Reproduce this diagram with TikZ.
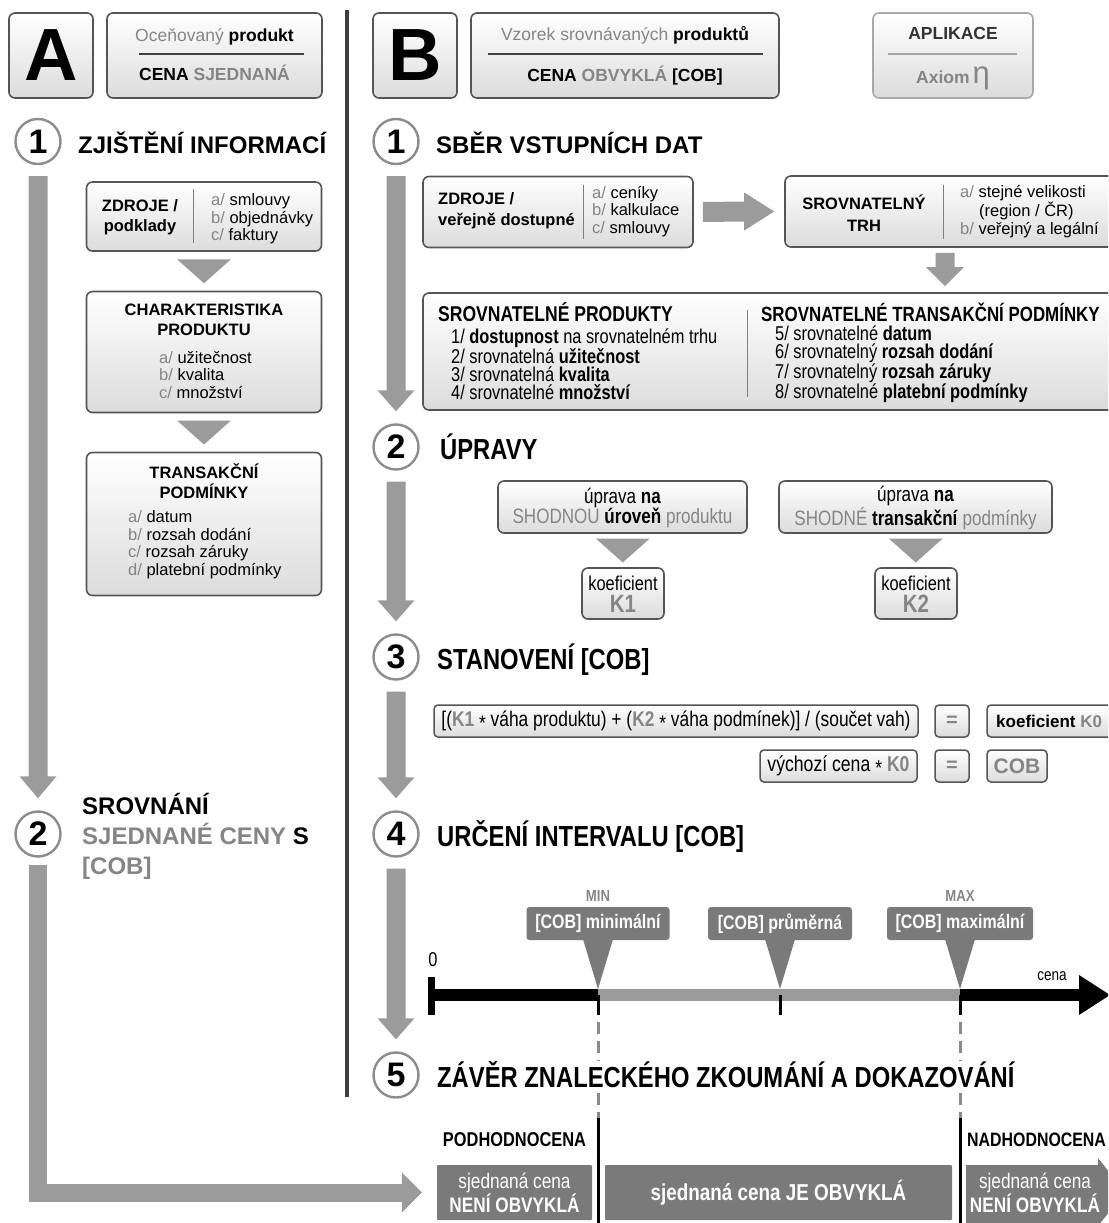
\documentclass[tikz,border=0pt]{standalone}
\usepackage{fontspec}
\setmainfont{Liberation Sans}
\newfontfamily\narrowfont[FakeStretch=0.82]{Liberation Sans}
\usetikzlibrary{calc}

\definecolor{boxline}{HTML}{555555}
\definecolor{boxbot}{HTML}{DCDCDC}
\definecolor{lightline}{HTML}{A8A8A8}
\definecolor{arrowgray}{HTML}{9B9B9B}
\definecolor{txtgray}{HTML}{858585}
\definecolor{darktxt}{HTML}{333333}
\definecolor{circline}{HTML}{8C8C8C}
\definecolor{sepgray}{HTML}{3F3F3F}
\definecolor{calloutgray}{HTML}{7A7A7A}
\definecolor{dashgray}{HTML}{8A8A8A}

\newcommand\gtx[1]{\textcolor{txtgray}{#1}}
\newcommand\starop{\raisebox{-.35ex}{*}}
\newcommand\downtri[1]{\fill[arrowgray] ($(#1)+(-27,-12)$) -- ($(#1)+(27,-12)$) -- ($(#1)+(0,12)$) -- cycle;}
\newcommand\blockdown[5]{\fill[arrowgray] ($(#1)+(-#3,0)$) -- ($(#2)+(-#3,-#5)$) -- ($(#2)+(-#4,-#5)$) -- (#2) -- ($(#2)+(#4,-#5)$) -- ($(#2)+(#3,-#5)$) -- ($(#1)+(#3,0)$) -- cycle;}
\newcommand\blockright[5]{\fill[arrowgray] ($(#1)+(0,-#3)$) -- ($(#2)+(-#5,-#3)$) -- ($(#2)+(-#5,-#4)$) -- (#2) -- ($(#2)+(-#5,#4)$) -- ($(#2)+(-#5,#3)$) -- ($(#1)+(0,#3)$) -- cycle;}

\tikzset{
  box/.style={draw=boxline, line width=1.6pt, rounded corners=6pt, top color=white, bottom color=boxbot, inner sep=0pt},
  sbox/.style={box, rounded corners=4pt, line width=1.5pt},
  circ/.style={circle, draw=circline, line width=2.4pt, minimum size=45pt, inner sep=0pt, font=\fontsize{34}{34}\selectfont\bfseries},
  head/.style={anchor=base west, inner sep=0pt, font=\fontsize{24}{24}\selectfont\bfseries},
  nhead/.style={anchor=base west, inner sep=0pt, font=\narrowfont\fontsize{29}{29}\selectfont\bfseries},
  hdr/.style={anchor=base, inner sep=0pt, font=\fontsize{17.5}{18}\selectfont},
  txt/.style={inner sep=0pt, align=left, font=\fontsize{16.5}{17.5}\selectfont},
  btxt/.style={txt, font=\fontsize{16.5}{20}\selectfont\bfseries},
  ntxt/.style={inner sep=0pt, align=left, font=\narrowfont\fontsize{20}{18}\selectfont},
  nttl/.style={anchor=base west, inner sep=0pt, font=\narrowfont\fontsize{21.4}{20}\selectfont\bfseries},
  nlbl/.style={inner sep=0pt, font=\narrowfont\fontsize{20}{20}\selectfont\bfseries},
  callout/.style={fill=calloutgray, rounded corners=3pt, text=white, inner sep=0pt, font=\narrowfont\fontsize{19.5}{20}\selectfont\bfseries},
  outbox/.style={fill=calloutgray, rounded corners=1pt, text=white, inner sep=0pt, align=center, font=\narrowfont\fontsize{21}{24}\selectfont},
  hline/.style={draw=black!75, line width=1.2pt},
  divline/.style={draw=gray, line width=1pt},
  dashline/.style={draw=dashgray, line width=3pt, dash pattern=on 12pt off 7pt}
}

\begin{document}
\begin{tikzpicture}[x=1pt,y=-1pt]
\path[use as bounding box, clip] (0,0) rectangle (1108,1223);

% header row
\node[box, minimum width=84pt, minimum height=85pt, font=\fontsize{74}{74}\selectfont\bfseries] (boxA) at (51,55.5) {A};
\node[box, minimum width=215pt, minimum height=85pt] (hdrA) at (214.5,55.5) {};
\draw[hline] (139,54) -- (304,54);
\node[hdr] (hdrA1) at (214.5,41.5) {\gtx{Oceňovaný} \textbf{produkt}};
\node[hdr] (hdrA2) at (214.5,80.5) {\textbf{CENA \gtx{SJEDNANÁ}}};
\node[box, minimum width=84pt, minimum height=85pt, font=\fontsize{74}{74}\selectfont\bfseries] (boxB) at (415,55.5) {B};
\node[box, minimum width=308pt, minimum height=85pt] (hdrB) at (625,55.5) {};
\draw[hline] (488,54) -- (763,54);
\node[hdr] (hdrB1) at (625,40.5) {\gtx{Vzorek srovnávaných} \textbf{produktů}};
\node[hdr] (hdrB2) at (625,81.5) {\textbf{CENA \gtx{OBVYKLÁ} [COB]}};
\node[box, draw=lightline, minimum width=160pt, minimum height=85pt] (apl) at (953,55.5) {};
\draw[hline, draw=lightline] (888,54) -- (1017,54);
\node[hdr] (apl1) at (953,40) {\textbf{\textcolor{darktxt}{APLIKACE}}};
\node[hdr] (apl2) at (953,83) {\gtx{\textbf{Axiom}\,{\fontsize{31}{31}\selectfont η}}};

\draw[draw=sepgray, line width=4pt] (347,10) -- (347,1097);

% column A
\node[circ] (a1) at (38,141.5) {1};
\node[head] (a1t) at (78,153) {ZJIŠTĚNÍ INFORMACÍ};
\node[box, minimum width=235pt, minimum height=69pt] (zdrA) at (204,216.5) {};
\draw[divline] (193,189) -- (193,243);
\node[btxt, align=center] (zdrA1) at (140,217) {ZDROJE /\\podklady};
\node[txt, anchor=west] (zdrA2) at (211,219) {\gtx{a/} smlouvy\\\gtx{b/} objednávky\\\gtx{c/} faktury};
\node[box, minimum width=235pt, minimum height=121pt] (charA) at (204,352) {};
\node[btxt, align=center] (charA1) at (204,320) {CHARAKTERISTIKA\\PRODUKTU};
\node[txt, anchor=west] (charA2) at (159,375) {\gtx{a/} užitečnost\\\gtx{b/} kvalita\\\gtx{c/} množství};
\node[box, minimum width=235pt, minimum height=143pt] (tranA) at (204,524) {};
\node[btxt, align=center] (tranA1) at (204,481.5) {TRANSAKČNÍ\\PODMÍNKY};
\node[txt, anchor=west] (tranA2) at (128,544.5) {\gtx{a/} datum\\\gtx{b/} rozsah dodání\\\gtx{c/} rozsah záruky\\\gtx{d/} platební podmínky};
\coordinate (m1) at ($(zdrA.south)!.5!(charA.north)$); \downtri{m1}
\coordinate (m2) at ($(charA.south)!.5!(tranA.north)$); \downtri{m2}
\node[circ] (a2) at (38,834) {2};
\node[txt, anchor=west, font=\fontsize{24}{30}\selectfont\bfseries] (a2t) at (82,836) {SROVNÁNÍ\\\gtx{SJEDNANÉ CENY} S\\\gtx{[COB]}};
\coordinate (s0) at ($(a1.south)+(0,11)$); \coordinate (e0) at ($(a2.north)+(0,-12)$);
\blockdown{s0}{e0}{9.5}{18.5}{22}

% column B, step 1
\node[circ] (b1) at (396,141.5) {1};
\node[head] (b1t) at (436,153) {SBĚR VSTUPNÍCH DAT};
\node[box, minimum width=270pt, minimum height=71pt] (zdrB) at (558,212) {};
\draw[divline] (583,185) -- (583,239);
\node[btxt, anchor=west, font=\fontsize{16.5}{21}\selectfont\bfseries] (zdrB1) at (438,211) {ZDROJE /\\veřejně dostupné};
\node[txt, anchor=west] (zdrB2) at (592,211.5) {\gtx{a/} ceníky\\\gtx{b/} kalkulace\\\gtx{c/} smlouvy};
\node[box, minimum width=335pt, minimum height=71pt] (trh) at (952.5,211.5) {};
\draw[divline] (943,185) -- (943,239);
\node[btxt, align=center, font=\fontsize{16.5}{21.5}\selectfont\bfseries] (trh1) at (864,213) {SROVNATELNÝ\\TRH};
\node[txt, anchor=west, font=\fontsize{16.5}{18.5}\selectfont] (trh2) at (960,212) {\gtx{a/} stejné velikosti\\\hspace*{19pt}(region / ČR)\\\gtx{b/} veřejný a legální};
\coordinate (r1) at ($(zdrB.east)+(9,0)$); \coordinate (r2) at ($(trh.west)+(-10,0)$);
\blockright{r1}{r2}{10}{19}{30}
\node[box, minimum width=697pt, minimum height=117pt] (srv) at (771.5,351.5) {};
\coordinate (d1) at ($(trh.south)+(-7.5,5)$); \coordinate (d2) at ($(d1 |- srv.north)+(0,-6)$);
\blockdown{d1}{d2}{9.5}{19}{19}
\draw[divline] (747,310) -- (747,397);
\node[nttl] (srv1) at (438,321) {SROVNATELNÉ PRODUKTY};
\node[ntxt, anchor=west] (srv2) at (451,364) {1/ \textbf{dostupnost} na srovnatelném trhu\\2/ srovnatelná \textbf{užitečnost}\\3/ srovnatelná \textbf{kvalita}\\4/ srovnatelné \textbf{množství}};
\node[nttl, font=\narrowfont\fontsize{20.6}{20}\selectfont\bfseries] (srv3) at (761,321) {SROVNATELNÉ TRANSAKČNÍ PODMÍNKY};
\node[ntxt, anchor=west] (srv4) at (775,364) {5/ srovnatelné \textbf{datum}\\6/ srovnatelný \textbf{rozsah dodání}\\7/ srovnatelný \textbf{rozsah záruky}\\8/ srovnatelné \textbf{platební podmínky}};

% step 2
\node[circ] (b2) at (396,447) {2};
\node[nhead] (b2t) at (440,459) {ÚPRAVY};
\node[box, minimum width=249pt, minimum height=52pt] (upr1) at (622.5,507) {};
\node[ntxt, align=center, font=\narrowfont\fontsize{20.8}{20}\selectfont] (upr1t) at (622.5,508) {úprava \textbf{na}\\\gtx{SHODNOU} \textbf{úroveň} \gtx{produktu}};
\node[box, minimum width=273pt, minimum height=52pt] (upr2) at (915.5,507) {};
\node[ntxt, align=center, font=\narrowfont\fontsize{20.8}{20}\selectfont] (upr2t) at (915.5,508) {úprava \textbf{na}\\\gtx{SHODNÉ} \textbf{transakční} \gtx{podmínky}};
\node[box, minimum width=82pt, minimum height=51pt] (k1) at (623,593.5) {};
\node[ntxt, align=center, font=\narrowfont\fontsize{20}{22}\selectfont] (k1t) at (623,594) {koeficient\\\gtx{\fontsize{25}{22}\selectfont\bfseries K1}};
\node[box, minimum width=82pt, minimum height=51pt] (k2) at (916,593.5) {};
\node[ntxt, align=center, font=\narrowfont\fontsize{20}{22}\selectfont] (k2t) at (916,594) {koeficient\\\gtx{\fontsize{25}{22}\selectfont\bfseries K2}};
\coordinate (m3) at ($(upr1.south)!.5!(k1.north)$); \downtri{m3}
\coordinate (m4) at ($(upr2.south)!.5!(k2.north)$); \downtri{m4}

% step 3
\node[circ] (b3) at (396,657) {3};
\node[nhead] (b3t) at (437,669) {STANOVENÍ [COB]};
\node[sbox, minimum width=484pt, minimum height=32pt, font=\narrowfont\fontsize{21.2}{20}\selectfont] (frm) at (676,721) {[(\gtx{\textbf{K1}} \starop\ váha produktu) + (\gtx{\textbf{K2}} \starop\ váha podmínek)] / (součet vah)};
\node[sbox, minimum width=34pt, minimum height=32pt, font=\fontsize{20}{20}\selectfont\bfseries, text=txtgray] (eq1) at (952,721) {=};
\node[sbox, minimum width=133pt, minimum height=32pt] (k0) at (1053.5,721) {};
\node[txt, anchor=west, font=\fontsize{17}{17}\selectfont\bfseries] (k0t) at (996,721) {koeficient \gtx{K0}};
\node[sbox, minimum width=157pt, minimum height=32pt, font=\narrowfont\fontsize{21.5}{20}\selectfont] (vc) at (838.5,766) {výchozí cena \starop\ \gtx{\textbf{K0}}};
\node[sbox, minimum width=34pt, minimum height=32pt, font=\fontsize{20}{20}\selectfont\bfseries, text=txtgray] (eq2) at (952,766) {=};
\node[sbox, minimum width=60pt, minimum height=32pt, font=\fontsize{21}{21}\selectfont\bfseries, text=txtgray] (cob) at (1017,766) {COB};

% step 4
\node[circ] (b4) at (396,834) {4};
\node[nhead] (b4t) at (437,846) {URČENÍ INTERVALU [COB]};
\coordinate (t0) at (431.5,995); \coordinate (tmin) at (598,995);
\coordinate (tavg) at (780,995); \coordinate (tmax) at (960,995); \coordinate (tend) at (1110,995);
\draw[line width=12pt] (t0) -- ($(tend)+(-30,0)$);
\fill ($(tend)+(-31,-20)$) -- (tend) -- ($(tend)+(-31,20)$) -- cycle;
\draw[arrowgray, line width=12pt] (tmin) -- (tmax);
\draw[line width=7pt] ($(t0)+(0,-18)$) -- ($(t0)+(0,20)$);
\draw[line width=3pt] (tavg) -- ++(0,20);
\node[ntxt, font=\narrowfont\fontsize{20}{20}\selectfont] (zero) at (433,960) {0};
\node[ntxt, font=\narrowfont\fontsize{16.5}{16}\selectfont] (cena) at (1052,976) {cena};
\node[callout, minimum width=143pt, minimum height=33pt] (cmin) at ($(tmin)+(0,-71.5)$) {[COB] minimální};
\node[callout, minimum width=144pt, minimum height=33pt] (cavg) at ($(tavg)+(0,-71.5)$) {[COB] průměrná};
\node[callout, minimum width=146pt, minimum height=33pt] (cmax) at ($(tmax)+(0,-71.5)$) {[COB] maximální};
\foreach \c/\tk in {cmin/tmin,cavg/tavg,cmax/tmax}
  \fill[calloutgray] ($(\c.south)+(-15,-1)$) -- ($(\tk)+(0,-6)$) -- ($(\c.south)+(15,-1)$) -- cycle;
\node[nlbl, text=txtgray, font=\narrowfont\fontsize{16}{16}\selectfont\bfseries] (lmin) at ($(cmin.north)+(0,-11)$) {MIN};
\node[nlbl, text=txtgray, font=\narrowfont\fontsize{16}{16}\selectfont\bfseries] (lmax) at ($(cmax.north)+(0,-11)$) {MAX};

% step 5
\node[circ] (b5) at (396,1075) {5};
\node[nhead] (b5t) at (437,1087) {ZÁVĚR ZNALECKÉHO ZKOUMÁNÍ A DOKAZOVÁNÍ};
\foreach \p/\q in {b1/b2,b2/b3,b3/b4,b4/b5}{
  \coordinate (s) at ($(\p.south)+(0,11)$); \coordinate (e) at ($(\q.north)+(0,-12)$);
  \blockdown{s}{e}{9.5}{18.5}{21}
}
\node[outbox, minimum width=155pt, minimum height=55pt] (bx1) at (514.5,1192.5) {sjednaná cena\\\textbf{NENÍ OBVYKLÁ}};
\node[outbox, minimum width=347pt, minimum height=55pt, font=\narrowfont\fontsize{23}{24}\selectfont\bfseries] (bx2) at (778.5,1192.5) {sjednaná cena JE OBVYKLÁ};
\fill[calloutgray] (966,1165) -- (1098,1165) -- (1098,1158) -- (1125,1192) -- (1098,1226) -- (966,1226) -- cycle;
\node[outbox, fill=none] (bx3) at (1035,1192.5) {sjednaná cena\\\textbf{NENÍ OBVYKLÁ}};
\node[nlbl] (pod) at ($(bx1.north)+(0,-25)$) {PODHODNOCENA};
\node[nlbl, anchor=west, font=\narrowfont\fontsize{19.4}{20}\selectfont\bfseries] (nad) at (967,1140) {NADHODNOCENA};
\foreach \tk in {tmin,tmax}{
  \draw[line width=3pt] (\tk) -- ++(0,20);
  \draw[dashline] ($(\tk)+(0,27)$) -- (\tk |- b5t.north);
  \draw[dashline] ($(\tk |- b5t.south)+(0,6)$) -- ($(\tk |- bx1.north)+(0,-47)$);
  \draw[line width=3pt] ($(\tk |- bx1.north)+(0,-47)$) -- ($(\tk |- bx1.south)+(0,3)$);
}

% comparison arrow A -> result
\draw[arrowgray, line width=18pt] ($(a2.south)+(0,7)$) |- ($(bx1.west)+(-34,0)$);
\fill[arrowgray] ($(bx1.west)+(-35,-20)$) -- ($(bx1.west)+(-15,0)$) -- ($(bx1.west)+(-35,20)$) -- cycle;
\end{tikzpicture}
\end{document}
